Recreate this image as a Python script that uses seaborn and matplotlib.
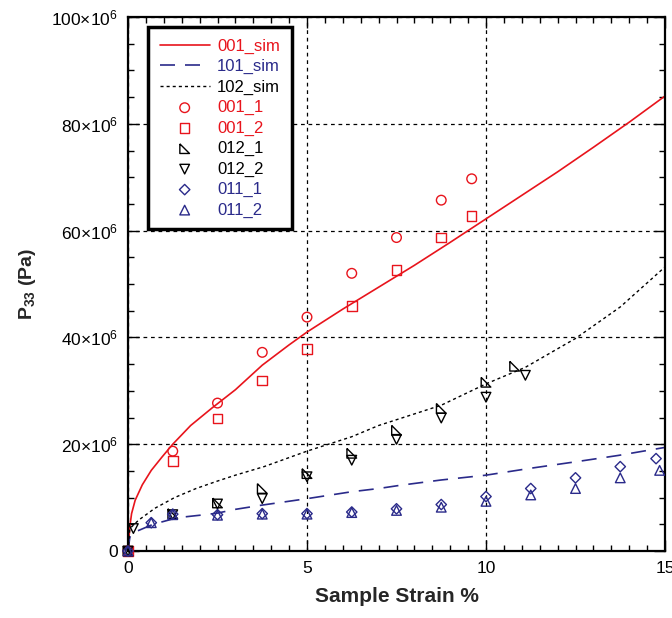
import numpy as np
import pandas as pd
import matplotlib
matplotlib.use("Agg")
import matplotlib.pyplot as plt
import seaborn as sns
from matplotlib.ticker import MultipleLocator, FuncFormatter

# ---- data (pressure values in units of 1e6 Pa) ----
sim001_x = [0, 0.05, 0.1, 0.2, 0.4, 0.65, 0.95, 1.25, 1.75, 2.35, 3.0, 3.75, 4.5, 5.0,
            6.0, 7.0, 8.0, 9.0, 10.0, 11.0, 12.0, 13.0, 14.0, 15.0]
sim001_y = [0, 4.5, 7.0, 9.5, 12.4, 15.1, 17.6, 20.0, 23.5, 26.8, 30.2, 34.8, 38.6, 41.0,
            45.3, 49.4, 53.5, 57.8, 62.2, 66.6, 71.0, 75.6, 80.3, 85.2]

sim101_x = [0, 0.05, 0.1, 0.35, 0.7, 1.25, 1.6, 2.15, 2.5, 3.0, 3.75, 5.0, 6.25, 7.0,
            7.6, 8.75, 10.0, 11.25, 12.5, 13.7, 15.0]
sim101_y = [0, 2.5, 3.3, 4.0, 5.0, 6.0, 6.4, 6.8, 7.1, 7.8, 8.6, 9.8, 11.1, 11.7,
            12.3, 13.3, 14.2, 15.5, 16.7, 17.9, 19.4]

sim102_x = [0, 0.05, 0.3, 0.75, 1.3, 1.9, 2.5, 3.0, 3.8, 5.0, 6.25, 7.0, 8.75, 10.0,
            11.1, 12.5, 13.75, 15.0]
sim102_y = [0, 4.2, 5.8, 8.0, 10.0, 11.7, 13.1, 14.2, 15.8, 18.7, 21.4, 23.5, 27.3, 31.3,
            34.4, 39.8, 45.7, 53.2]

d001_1_x = [0, 1.25, 2.5, 3.75, 5.0, 6.25, 7.5, 8.75, 9.6]
d001_1_y = [0, 18.7, 27.7, 37.2, 43.8, 52.0, 58.7, 65.7, 69.7]
d001_2_x = [0, 1.25, 2.5, 3.75, 5.0, 6.25, 7.5, 8.75, 9.6]
d001_2_y = [0, 16.8, 24.8, 31.9, 37.8, 45.9, 52.6, 58.7, 62.7]

d012_1_x = [0, 1.25, 2.5, 3.75, 5.0, 6.25, 7.5, 8.75, 10.0, 10.8]
d012_1_y = [0, 7.0, 9.0, 11.7, 14.5, 18.3, 22.6, 26.7, 31.6, 34.6]
d012_2_x = [0, 0.15, 1.25, 2.5, 3.75, 5.0, 6.25, 7.5, 8.75, 10.0, 11.1]
d012_2_y = [0, 4.2, 6.8, 8.8, 9.8, 13.9, 17.0, 20.9, 24.9, 28.8, 32.9]

d011_1_x = [0, 0.65, 1.25, 2.5, 3.75, 5.0, 6.25, 7.5, 8.75, 10.0, 11.25, 12.5, 13.75, 14.75]
d011_1_y = [0, 5.3, 6.9, 6.8, 7.0, 7.0, 7.3, 7.9, 8.7, 10.2, 11.7, 13.7, 15.8, 17.3]
d011_2_x = [0, 0.65, 1.25, 2.5, 3.75, 5.0, 6.25, 7.5, 8.75, 10.0, 11.25, 12.5, 13.75, 14.85]
d011_2_y = [0, 5.3, 6.8, 6.7, 6.9, 6.9, 7.2, 7.6, 8.2, 9.3, 10.5, 11.7, 13.7, 15.1]

SCALE = 1e6
RED = "#e8141c"
BLUE = "#2a2a8a"
BLACK = "#000000"

sns.set_style("ticks")
plt.rcParams["font.family"] = ["Liberation Sans", "DejaVu Sans"]
plt.rcParams["mathtext.fontset"] = "custom"
plt.rcParams["mathtext.rm"] = "Liberation Sans"
plt.rcParams["mathtext.it"] = "Liberation Sans:italic"
plt.rcParams["mathtext.bf"] = "Liberation Sans:bold"

fig = plt.figure(figsize=(6.72, 6.18), dpi=100)
ax = fig.add_axes([128 / 672, 1 - 551 / 618, 537 / 672, 534 / 618])

def sc(v):
    return [a * SCALE for a in v]

# simulation curves
sns.lineplot(x=sim001_x, y=sc(sim001_y), color=RED, lw=1.2, ls="-", label="001_sim",
             errorbar=None, ax=ax, zorder=2)
sns.lineplot(x=sim101_x, y=sc(sim101_y), color=BLUE, lw=1.2, ls=(0, (9, 6)), label="101_sim",
             errorbar=None, ax=ax, zorder=2)
sns.lineplot(x=sim102_x, y=sc(sim102_y), color=BLACK, lw=1.0, ls=(0, (2.2, 2.2)), label="102_sim",
             errorbar=None, ax=ax, zorder=2)

rtri = [(-1, 1), (-1, -1), (1, -1), (-1, 1)]

series = [
    ("001_1", d001_1_x, d001_1_y, "o", RED, 48),
    ("001_2", d001_2_x, d001_2_y, "s", RED, 48),
    ("012_1", d012_1_x, d012_1_y, rtri, BLACK, 48),
    ("012_2", d012_2_x, d012_2_y, "v", BLACK, 48),
    ("011_1", d011_1_x, d011_1_y, "D", BLUE, 28),
    ("011_2", d011_2_x, d011_2_y, "^", BLUE, 48),
]
for lab, xs, ys, mk, col, s in series:
    sns.scatterplot(x=xs, y=sc(ys), marker=mk, s=s, facecolor="none", edgecolor=col,
                    linewidth=1.0, label=lab, ax=ax, zorder=3, clip_on=False)

ax.set_xlim(0, 15)
ax.set_ylim(0, 100e6)
ax.xaxis.set_major_locator(MultipleLocator(5))
ax.xaxis.set_minor_locator(MultipleLocator(0.5))
ax.yaxis.set_major_locator(MultipleLocator(20e6))
ax.yaxis.set_minor_locator(MultipleLocator(5e6))

def yfmt(v, pos):
    if abs(v) < 1:
        return "0"
    return r"%d$\times$10$^{6}$" % int(round(v / 1e6))

ax.yaxis.set_major_formatter(FuncFormatter(yfmt))
ax.xaxis.set_major_formatter(FuncFormatter(lambda v, p: "%d" % int(round(v))))

ax.tick_params(which="both", direction="in", top=True, right=True, colors="black",
               labelsize=12.5)
ax.tick_params(which="major", length=8, width=1.0, pad=7)
ax.tick_params(which="minor", length=4, width=1.0)
for sp in ax.spines.values():
    sp.set_linewidth(1.6)
    sp.set_color("black")

ax.grid(True, which="major", color="black", lw=0.9, ls=(0, (3, 3)))

ax.set_xlabel("Sample Strain %", fontsize=15, fontweight="bold", labelpad=8)
ax.set_ylabel(r"P$_{\mathbf{33}}$ (Pa)", fontsize=14, fontweight="bold", labelpad=10)

handles, labels = ax.get_legend_handles_labels()
order = ["001_sim", "101_sim", "102_sim", "001_1", "001_2", "012_1", "012_2", "011_1", "011_2"]
hmap = dict(zip(labels, handles))
leg = ax.legend([hmap[k] for k in order], order, loc="upper left",
                bbox_to_anchor=(20 / 537, 1 - 10 / 534), borderaxespad=0,
                fontsize=12, frameon=True, fancybox=False, framealpha=1,
                edgecolor="black", handlelength=3.0, labelspacing=0.32,
                borderpad=0.7, handletextpad=0.45, markerscale=1.0)
leg.get_frame().set_linewidth(2.5)
text_colors = [RED, BLUE, BLACK, RED, RED, BLACK, BLACK, BLUE, BLUE]
for t, c in zip(leg.get_texts(), text_colors):
    t.set_color(c)

fig.savefig("out.png", dpi=100)
